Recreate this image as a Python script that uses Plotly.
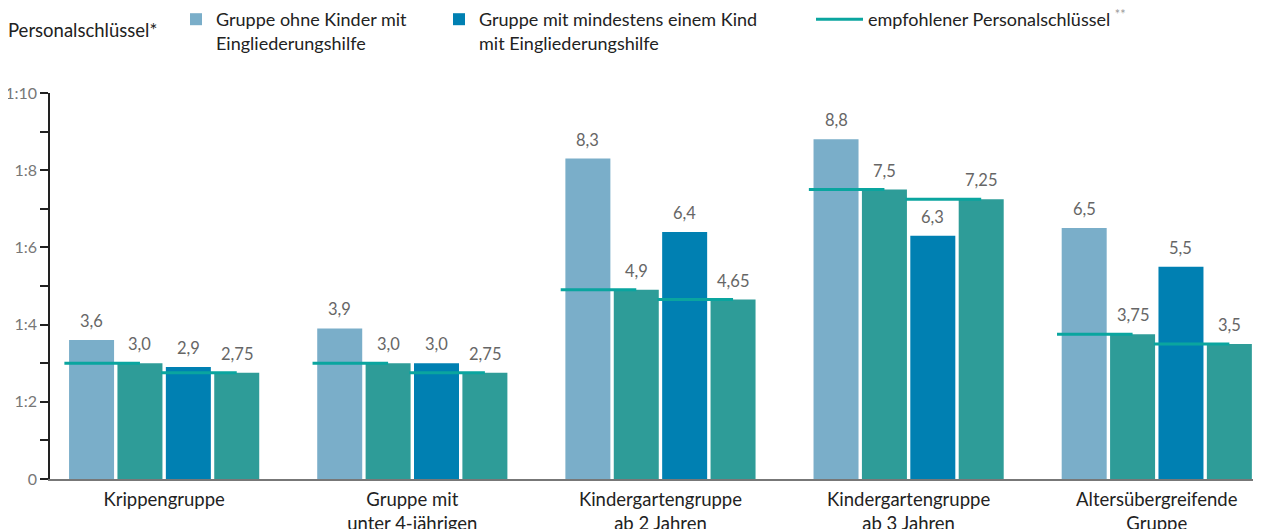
import plotly.graph_objects as go

categories = ["Krippengruppe", "Gruppe mit<br>unter 4-jährigen", "Kindergartengruppe<br>ab 2 Jahren",
              "Kindergartengruppe<br>ab 3 Jahren", "Altersübergreifende<br>Gruppe"]
ohne_kind = [3.6, 3.9, 8.3, 8.8, 6.5]
empf_ohne = [3.0, 3.0, 4.9, 7.5, 3.75]
mit_kind = [2.9, 3.0, 6.4, 6.3, 5.5]
empf_mit = [2.75, 2.75, 4.65, 7.25, 3.5]
y_tickvals = [0, 2, 4, 6, 8, 10]
y_ticktext = ["0", "1:2", "1:4", "1:6", "1:8", "1:10"]

C_LIGHT = "#7aaec9"
C_TEAL = "#2e9c98"
C_DARK = "#0080b2"
C_LINE = "#0aa59f"
FONT = "Lato"

slot = 0.195
offsets = [-1.5 * slot, -0.5 * slot, 0.5 * slot, 1.5 * slot]
bw = slot * 0.93
idx = list(range(len(categories)))


def fmt(v):
    s = f"{v:.2f}".rstrip("0")
    if s.endswith("."):
        s += "0"
    return s.replace(".", ",")


fig = go.Figure()
series = [
    (ohne_kind, C_LIGHT, "Gruppe ohne Kinder mit<br>Eingliederungshilfe", True, "legend"),
    (empf_ohne, C_TEAL, "empf_ohne", False, "legend"),
    (mit_kind, C_DARK, "Gruppe mit mindestens einem Kind<br>mit Eingliederungshilfe", True, "legend2"),
    (empf_mit, C_TEAL, "empf_mit", False, "legend"),
]
annotations = []
for k, (vals, col, name, show, lg) in enumerate(series):
    xs = [i + offsets[k] for i in idx]
    fig.add_trace(go.Bar(x=xs, y=vals, width=bw, marker=dict(color=col, line=dict(width=0)),
                         name=name, showlegend=show, legend=lg, hoverinfo="skip"))
    for x, v in zip(xs, vals):
        annotations.append(dict(x=x, y=v, xref="x", yref="y", text=fmt(v), showarrow=False,
                                yanchor="bottom", yshift=7,
                                font=dict(family=FONT, size=16.5, color="#666")))

# recommended key lines
lx, ly = [], []
pad = 0.012
for i in idx:
    lx += [i + offsets[0] - slot / 2 - pad, i + offsets[1], None]
    ly += [empf_ohne[i], empf_ohne[i], None]
    lx += [i + offsets[2] - slot / 2 - pad, i + offsets[3], None]
    ly += [empf_mit[i], empf_mit[i], None]
fig.add_trace(go.Scatter(x=lx, y=ly, mode="lines", line=dict(color=C_LINE, width=3),
                         name="empfohlener Personalschlüssel <span style='color:#999'><sup>**</sup></span>",
                         legend="legend3", hoverinfo="skip"))

# page body has an 8px margin; figure is laid out in page coords minus that offset
OFF = 8
W, H = 1261 - OFF, 529 - OFF
ml, mr, mt, mb = 50 - OFF, 0, 93 - OFF, 50
pw, ph = W - ml - mr, H - mt - mb


def px(xp):
    return (xp - OFF - ml) / pw


def py(yp):
    return (H - mb - (yp - OFF)) / ph


annotations.append(dict(x=px(6), y=py(30), xref="paper", yref="paper", text="Personalschlüssel*",
                        showarrow=False, xanchor="left", yanchor="middle",
                        font=dict(family=FONT, size=18.5, color="#222")))

leg_common = dict(orientation="h", yanchor="top", xanchor="left", valign="top",
                  font=dict(family=FONT, size=18, color="#222"), bgcolor="rgba(0,0,0,0)",
                  borderwidth=0)
fig.update_layout(
    width=W, height=H,
    margin=dict(l=ml, r=mr, t=mt, b=mb, autoexpand=False),
    plot_bgcolor="white", paper_bgcolor="white",
    barmode="overlay",
    showlegend=True,
    legend=dict(x=px(176), y=py(1), **leg_common),
    legend2=dict(x=px(439), y=py(1), **leg_common),
    legend3=dict(x=px(811), y=py(1), itemwidth=47, **leg_common),
    annotations=annotations,
    xaxis=dict(range=[-0.46, 4.42], tickvals=idx, ticktext=categories, showgrid=False,
               zeroline=False, showline=True, linecolor="#777", linewidth=2, ticks="",
               ticklabelstandoff=3,
               tickfont=dict(family=FONT, size=18.5, color="#222")),
    yaxis=dict(range=[0, 10], tickvals=y_tickvals, ticktext=y_ticktext, showgrid=False,
               zeroline=False, showline=True, linecolor="#222", linewidth=1.5,
               ticks="outside", ticklen=8, tickwidth=1.5, tickcolor="#222",
               minor=dict(tickvals=[1, 3, 5, 7, 9], ticks="outside", ticklen=8, tickwidth=1.5,
                          tickcolor="#222"),
               tickfont=dict(family=FONT, size=16, color="#777")),
)
fig.write_html("out.html")
